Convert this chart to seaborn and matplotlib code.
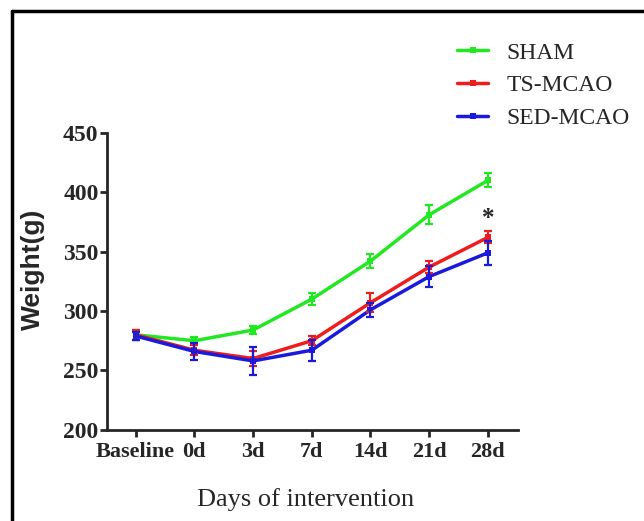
import numpy as np
import pandas as pd
import seaborn as sns
import matplotlib.pyplot as plt
from matplotlib.lines import Line2D

# Values
days = ['Baseline', '0d', '3d', '7d', '14d', '21d', '28d']
groups = ['SHAM', 'TS-MCAO', 'SED-MCAO']
sham = [280, 275, 284, 310, 342, 381, 410]
sham_err = [4, 3, 3, 5, 6, 8, 6]
ts = [280, 267, 260, 275, 307, 337, 362]
ts_err = [4, 4, 6, 4, 8, 5, 5]
sed = [279, 266, 258, 267, 301, 329, 349]
sed_err = [3, 7, 12, 9, 6, 9, 10]
colors = ['#22e822', '#ee1c1c', '#1a1adc']
star_day, star_y = '28d', 378

sns.set_style('ticks')
plt.rcParams['font.family'] = ['Liberation Serif', 'DejaVu Serif']

df = pd.DataFrame({
    'day': np.tile(np.arange(len(days)), 3),
    'weight': sham + ts + sed,
    'err': sham_err + ts_err + sed_err,
    'group': np.repeat(groups, len(days)),
})

fig = plt.figure(figsize=(6.44, 5.21), dpi=100)
ax = fig.add_axes([0.166, 0.175, 0.638, 0.570])

sns.lineplot(data=df, x='day', y='weight', hue='group', hue_order=groups,
             palette=colors, marker='s', markersize=4, markeredgewidth=0,
             linewidth=2.5, ax=ax, legend=False)
for g, c in zip(groups, colors):
    sub = df[df['group'] == g]
    ax.errorbar(sub['day'], sub['weight'], yerr=sub['err'], fmt='none',
                ecolor=c, elinewidth=1.6, capsize=3, capthick=1.6)

ax.text(days.index(star_day), star_y, '*', ha='center', va='center',
        fontsize=18, fontweight='bold')

ax.set_xlim(-0.49, 6.51)
ax.set_ylim(200, 450)
ax.set_yticks(range(200, 451, 50))
ax.set_xticks(range(len(days)))
ax.set_xticklabels(days)
ax.tick_params(axis='x', labelsize=16, width=2, length=5, pad=4)
ax.tick_params(axis='y', labelsize=17, width=2, length=5, pad=1)
for lab in ax.get_xticklabels() + ax.get_yticklabels():
    lab.set_fontweight('bold')
for s in ['left', 'bottom']:
    ax.spines[s].set_linewidth(2)
sns.despine(ax=ax)
ax.set_xlabel('Days of intervention', fontsize=19)
ax.set_ylabel('Weight(g)', fontsize=19, fontweight='bold',
              family=['Liberation Sans', 'DejaVu Sans'])
ax.xaxis.set_label_coords(0.484, -0.195)
ax.yaxis.set_label_coords(-0.151, 0.542)

handles = [Line2D([], [], color=c, lw=2.5, marker='s', markersize=4,
                  markeredgewidth=0) for c in colors]
fig.legend(handles, groups, loc='upper left', bbox_to_anchor=(0.677, 0.96),
           frameon=False, fontsize=17, handlelength=1.3, labelspacing=0.48,
           handletextpad=0.8)

# frame around the figure (left and top edges)
fig.add_artist(Line2D([0.018, 0.018], [0, 0.979], color='black', lw=2.5))
fig.add_artist(Line2D([0.018, 1], [0.979, 0.979], color='black', lw=2.5))

fig.savefig('out.png', dpi=100)
